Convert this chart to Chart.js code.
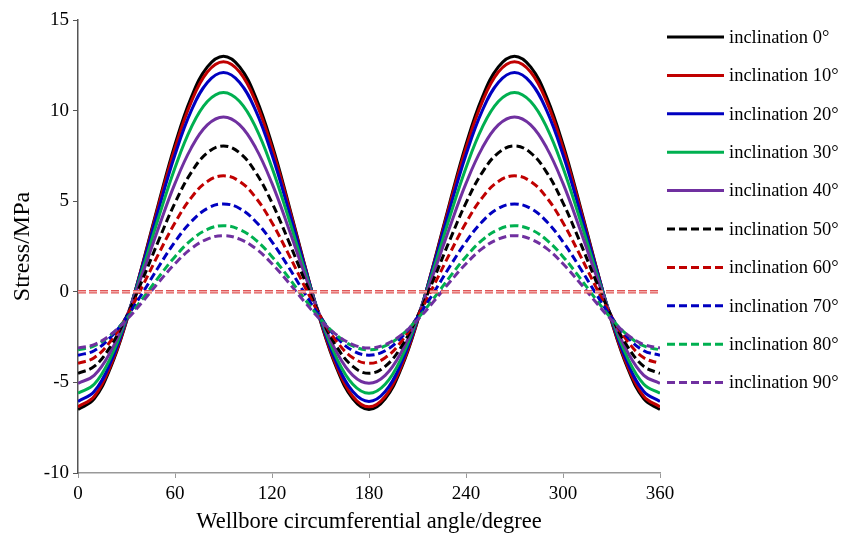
<!DOCTYPE html>
<html>
<head>
<meta charset="utf-8">
<script src="https://cdn.jsdelivr.net/npm/chart.js@4.4.1/dist/chart.umd.min.js"></script>
<style>
  html, body { margin: 0; padding: 0; background: #fff; }
  #wrap { width: 860px; height: 536px; }
</style>
</head>
<body>
<div id="wrap"><canvas id="stressChart" width="860" height="536"></canvas></div>
<script>
// wellbore angle, degrees
var angles = [0, 10, 20, 30, 40, 50, 60, 70, 80, 90, 100, 110, 120, 130, 140, 150, 160, 170, 180,
  190, 200, 210, 220, 230, 240, 250, 260, 270, 280, 290, 300, 310, 320, 330, 340, 350, 360];

var names = ['inclination 0°', 'inclination 10°', 'inclination 20°', 'inclination 30°', 'inclination 40°',
  'inclination 50°', 'inclination 60°', 'inclination 70°', 'inclination 80°', 'inclination 90°'];

// stress values (MPa)
var inc0 = [-6.5, -5.91, -4.22, -1.63, 1.56, 4.94, 8.13, 10.72, 12.41, 13.0, 12.41, 10.72, 8.13, 4.94, 1.56, -1.63, -4.22, -5.91, -6.5,
  -5.91, -4.22, -1.63, 1.56, 4.94, 8.13, 10.72, 12.41, 13.0, 12.41, 10.72, 8.13, 4.94, 1.56, -1.63, -4.22, -5.91, -6.5];
var inc10 = [-6.35, -5.78, -4.12, -1.59, 1.52, 4.83, 7.94, 10.47, 12.13, 12.7, 12.13, 10.47, 7.94, 4.83, 1.52, -1.59, -4.12, -5.78, -6.35,
  -5.78, -4.12, -1.59, 1.52, 4.83, 7.94, 10.47, 12.13, 12.7, 12.13, 10.47, 7.94, 4.83, 1.52, -1.59, -4.12, -5.78, -6.35];
var inc20 = [-6.05, -5.5, -3.93, -1.51, 1.45, 4.6, 7.56, 9.98, 11.55, 12.1, 11.55, 9.98, 7.56, 4.6, 1.45, -1.51, -3.93, -5.5, -6.05,
  -5.5, -3.93, -1.51, 1.45, 4.6, 7.56, 9.98, 11.55, 12.1, 11.55, 9.98, 7.56, 4.6, 1.45, -1.51, -3.93, -5.5, -6.05];
var inc30 = [-5.6, -5.1, -3.66, -1.45, 1.26, 4.14, 6.85, 9.06, 10.5, 11.0, 10.5, 9.06, 6.85, 4.14, 1.26, -1.45, -3.66, -5.1, -5.6,
  -5.1, -3.66, -1.45, 1.26, 4.14, 6.85, 9.06, 10.5, 11.0, 10.5, 9.06, 6.85, 4.14, 1.26, -1.45, -3.66, -5.1, -5.6];
var inc40 = [-5.05, -4.61, -3.33, -1.38, 1.02, 3.58, 5.98, 7.93, 9.21, 9.65, 9.21, 7.93, 5.98, 3.58, 1.02, -1.38, -3.33, -4.61, -5.05,
  -4.61, -3.33, -1.38, 1.02, 3.58, 5.98, 7.93, 9.21, 9.65, 9.21, 7.93, 5.98, 3.58, 1.02, -1.38, -3.33, -4.61, -5.05];
var inc50 = [-4.5, -4.12, -3.03, -1.36, 0.69, 2.86, 4.91, 6.58, 7.67, 8.05, 7.67, 6.58, 4.91, 2.86, 0.69, -1.36, -3.03, -4.12, -4.5,
  -4.12, -3.03, -1.36, 0.69, 2.86, 4.91, 6.58, 7.67, 8.05, 7.67, 6.58, 4.91, 2.86, 0.69, -1.36, -3.03, -4.12, -4.5];
var inc60 = [-3.95, -3.64, -2.74, -1.36, 0.33, 2.12, 3.81, 5.19, 6.09, 6.4, 6.09, 5.19, 3.81, 2.12, 0.33, -1.36, -2.74, -3.64, -3.95,
  -3.64, -2.74, -1.36, 0.33, 2.12, 3.81, 5.19, 6.09, 6.4, 6.09, 5.19, 3.81, 2.12, 0.33, -1.36, -2.74, -3.64, -3.95];
var inc70 = [-3.5, -3.25, -2.52, -1.41, -0.05, 1.4, 2.76, 3.87, 4.6, 4.85, 4.6, 3.87, 2.76, 1.4, -0.05, -1.41, -2.52, -3.25, -3.5,
  -3.25, -2.52, -1.41, -0.05, 1.4, 2.76, 3.87, 4.6, 4.85, 4.6, 3.87, 2.76, 1.4, -0.05, -1.41, -2.52, -3.25, -3.5];
var inc80 = [-3.2, -2.99, -2.4, -1.49, -0.37, 0.82, 1.94, 2.85, 3.44, 3.65, 3.44, 2.85, 1.94, 0.82, -0.37, -1.49, -2.4, -2.99, -3.2,
  -2.99, -2.4, -1.49, -0.37, 0.82, 1.94, 2.85, 3.44, 3.65, 3.44, 2.85, 1.94, 0.82, -0.37, -1.49, -2.4, -2.99, -3.2];
var inc90 = [-3.1, -2.91, -2.38, -1.55, -0.54, 0.54, 1.55, 2.38, 2.91, 3.1, 2.91, 2.38, 1.55, 0.54, -0.54, -1.55, -2.38, -2.91, -3.1,
  -2.91, -2.38, -1.55, -0.54, 0.54, 1.55, 2.38, 2.91, 3.1, 2.91, 2.38, 1.55, 0.54, -0.54, -1.55, -2.38, -2.91, -3.1];

// zero reference line
var zeroX = [0, 360];
var zeroY = [0, 0];

var series = [inc0, inc10, inc20, inc30, inc40, inc50, inc60, inc70, inc80, inc90];
var colors = ['#000000', '#c00000', '#0000c0', '#00b050', '#7030a0',
  '#000000', '#c00000', '#0000c0', '#00b050', '#7030a0'];

function toPoints(xs, ys) {
  return xs.map(function(x, i) { return {x: x, y: ys[i]}; });
}

var datasets = series.map(function(vals, i) {
  return {
    label: names[i],
    data: toPoints(angles, vals),
    borderColor: colors[i],
    borderWidth: 3,
    borderDash: i >= 5 ? [8, 4] : [],
    pointRadius: 0,
    tension: 0.4,
    fill: false,
    order: 20 - i
  };
});

// hollow-looking red dashes for the 0 line
datasets.push({
  label: 'zero',
  data: toPoints(zeroX, zeroY),
  borderColor: '#e05555',
  borderWidth: 3.5,
  borderDash: [8, 3],
  pointRadius: 0,
  order: 1
});
datasets.push({
  label: 'zero2',
  data: toPoints(zeroX, zeroY),
  borderColor: '#f7d0d0',
  borderWidth: 1,
  borderDash: [8, 3],
  pointRadius: 0,
  order: 0
});

var serif = "'Liberation Serif', 'Times New Roman', serif";

// legend drawn by hand so the rows line up like the original
var sideLegend = {
  id: 'sideLegend',
  afterDraw: function(chart) {
    var ctx = chart.ctx;
    ctx.save();
    ctx.font = '18.5px ' + serif;
    ctx.textBaseline = 'middle';
    ctx.textAlign = 'left';
    for (var i = 0; i < names.length; i++) {
      var ds = chart.data.datasets[i];
      var y = 37 + i * 38.4;
      ctx.beginPath();
      ctx.setLineDash(ds.borderDash);
      ctx.lineWidth = 3;
      ctx.strokeStyle = ds.borderColor;
      ctx.moveTo(667, y);
      ctx.lineTo(724, y);
      ctx.stroke();
      ctx.setLineDash([]);
      ctx.fillStyle = '#000';
      ctx.fillText(names[i], 729, y + 1);
    }
    ctx.restore();
  }
};

var ctx = document.getElementById('stressChart').getContext('2d');
new Chart(ctx, {
  type: 'line',
  data: { datasets: datasets },
  options: {
    responsive: false,
    animation: false,
    layout: { padding: { left: 0, right: 200, top: 20, bottom: 0 } },
    plugins: {
      legend: { display: false },
      tooltip: { enabled: false }
    },
    scales: {
      x: {
        type: 'linear',
        min: 0,
        max: 360,
        afterFit: function(scale) { scale.height = 63; },
        ticks: {
          stepSize: 60,
          padding: 5,
          color: '#000',
          font: { family: serif, size: 19 }
        },
        grid: { drawOnChartArea: false, tickLength: 5, color: '#999' },
        border: { color: '#999', width: 1.5 },
        title: {
          display: true,
          text: 'Wellbore circumferential angle/degree',
          color: '#000',
          font: { family: serif, size: 22.5 },
          padding: { top: 0, bottom: 0 }
        }
      },
      y: {
        min: -10,
        max: 15,
        afterFit: function(scale) { scale.width = 78; },
        ticks: {
          stepSize: 5,
          padding: 4,
          color: '#000',
          font: { family: serif, size: 19 }
        },
        grid: { drawOnChartArea: false, tickLength: 5, color: '#555' },
        border: { color: '#555', width: 1.5 },
        title: {
          display: true,
          text: 'Stress/MPa',
          color: '#000',
          font: { family: serif, size: 24 },
          padding: { top: 8, bottom: 0 }
        }
      }
    }
  },
  plugins: [sideLegend]
});
</script>
</body>
</html>
